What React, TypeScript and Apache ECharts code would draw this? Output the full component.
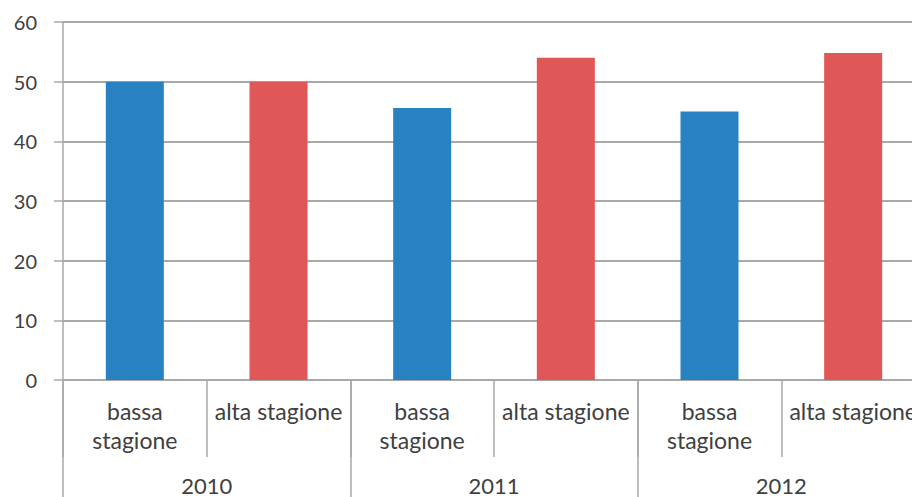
import React, { useEffect, useRef } from "react";
import * as echarts from "echarts";

const categories = ["bassa\nstagione", "alta stagione", "bassa\nstagione", "alta stagione", "bassa\nstagione", "alta stagione"];
const years = ["2010", "2011", "2012"];
const values = [50, 50, 45.6, 54, 45, 54.8];
const seasonColors = ["#2882C2", "#E05757"];
const yTicks = { min: 0, max: 60, interval: 10 };

export default function App() {
  const ref = useRef<HTMLDivElement>(null);
  useEffect(() => {
    if (!ref.current) return;
    const chart = echarts.init(ref.current, null, { renderer: "svg" });
    const gray = "#A9A9A9";
    const textColor = "#404040";
    const font = "Lato, 'Open Sans', sans-serif";
    chart.setOption({
      animation: false,
      backgroundColor: "#ffffff",
      grid: { left: 63, top: 22, width: 862, height: 358, containLabel: false },
      xAxis: [
        {
          type: "category",
          data: categories,
          position: "bottom",
          axisLine: { show: true, lineStyle: { color: gray, width: 1.5 } },
          axisTick: { show: true, length: 77, interval: 0, lineStyle: { color: gray, width: 1.5 } },
          axisLabel: {
            interval: 0,
            margin: 16,
            color: textColor,
            fontSize: 23,
            lineHeight: 29,
            fontFamily: font,
          },
        },
        {
          type: "category",
          data: years,
          position: "bottom",
          axisLine: { show: false },
          axisTick: { show: true, length: 120, interval: 0, lineStyle: { color: gray, width: 1.5 } },
          axisLabel: {
            interval: 0,
            margin: 94,
            color: textColor,
            fontSize: 22,
            lineHeight: 22,
            fontFamily: font,
          },
        },
      ],
      yAxis: {
        type: "value",
        min: yTicks.min,
        max: yTicks.max,
        interval: yTicks.interval,
        axisLine: { show: true, lineStyle: { color: gray, width: 1.5 } },
        axisTick: { show: true, length: 9, lineStyle: { color: gray, width: 1.5 } },
        splitLine: { show: true, lineStyle: { color: gray, width: 2 } },
        axisLabel: { margin: 26, color: textColor, fontSize: 20, fontFamily: font },
      },
      series: [
        {
          type: "bar",
          xAxisIndex: 0,
          barWidth: 58,
          data: values.map((v, i) => ({
            value: v,
            itemStyle: { color: seasonColors[i % 2] },
          })),
        },
      ],
    });
    return () => chart.dispose();
  }, []);
  return (
    <div style={{ position: "fixed", left: 0, top: 0, width: 912, height: 497, overflow: "hidden", background: "#fff" }}>
      <div ref={ref} style={{ width: 960, height: 497 }} />
    </div>
  );
}
